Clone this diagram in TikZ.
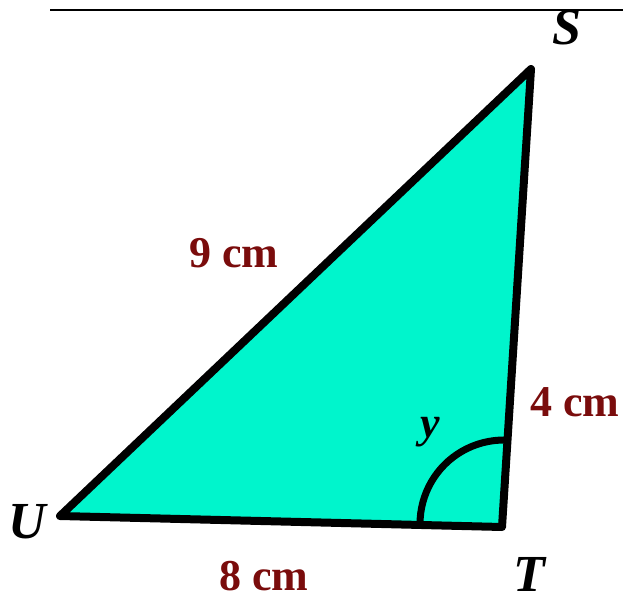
\documentclass[tikz,border=0pt]{standalone}
\usepackage{fontspec}
\setmainfont{Liberation Serif}
\begin{document}
\begin{tikzpicture}[x=1pt,y=-1pt,
  vlabel/.style={font=\fontsize{52}{52}\selectfont\bfseries\itshape, text=black, inner sep=0pt},
  mlabel/.style={font=\fontsize{44}{44}\selectfont\bfseries, text=measred, inner sep=0pt},
  tri/.style={draw=black, line width=8pt, line join=round, fill=triFill}]
\definecolor{triFill}{RGB}{0,245,204}
\definecolor{measred}{RGB}{122,12,12}
\useasboundingbox (0,0) rectangle (623,601);
\coordinate (L1) at (50,10);
\coordinate (L2) at (623,10);
\draw[line width=2.5pt] (L1) -- (L2);
\coordinate (U) at (60,516);
\coordinate (T) at (502,527);
\coordinate (S) at (531,69);
\draw[tri] (U) -- (T) -- (S) -- cycle;
\coordinate (A0) at (420,524);
\draw[line width=7pt] (A0) arc[start angle=180, end angle=271, radius=84];
\node[vlabel] (nS) at (567,28) {S};
\node[vlabel] (nU) at (27,522) {U};
\node[vlabel] (nT) at (529,574) {T};
\node[font=\fontsize{44}{44}\selectfont\bfseries\itshape, inner sep=0pt] (ny) at (430,432) {y};
\node[mlabel] (m9) at (234,253) {9 cm};
\node[mlabel] (m4) at (575,402) {4 cm};
\node[mlabel] (m8) at (264,576) {8 cm};
\end{tikzpicture}
\end{document}
